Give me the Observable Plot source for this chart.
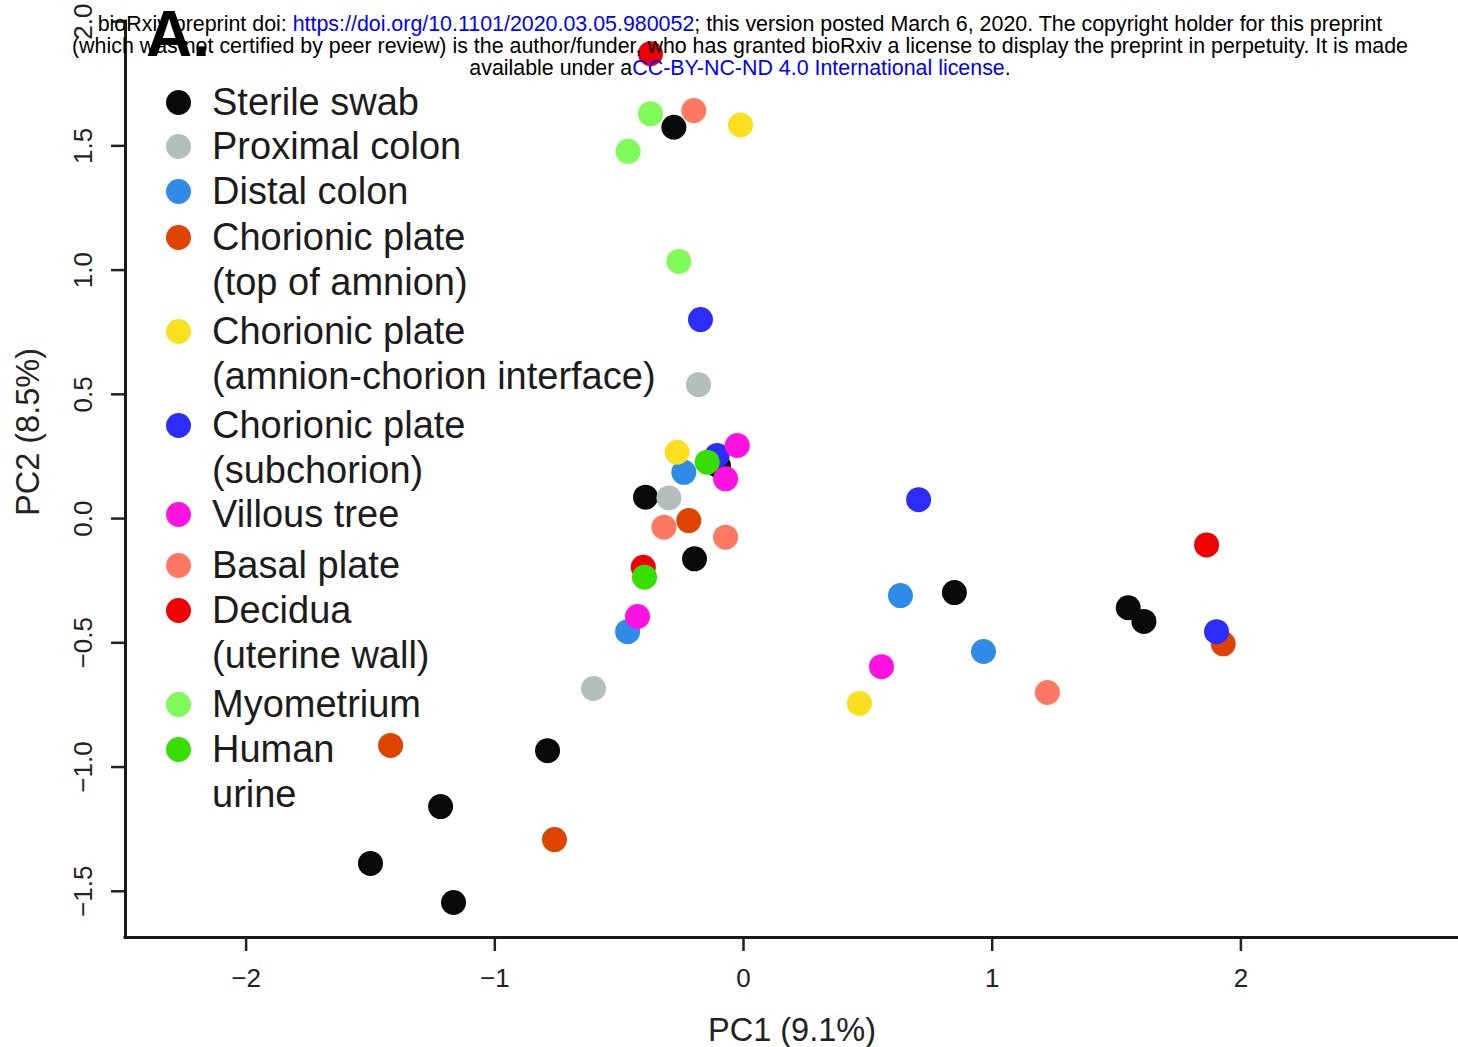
<!DOCTYPE html>
<html><head><meta charset="utf-8">
<script src="https://cdn.jsdelivr.net/npm/d3@7"></script>
<script src="https://cdn.jsdelivr.net/npm/@observablehq/plot@0.6"></script>
<style>
html,body{margin:0;padding:0;background:#fff;}
#wrap{position:relative;width:1458px;height:1047px;overflow:hidden;font-family:"Liberation Sans",Arial,Helvetica,sans-serif;}
#chart{position:absolute;left:0;top:0;}
.lg-dot{position:absolute;width:25px;height:25px;border-radius:50%;}
.lg-text{position:absolute;left:212px;height:44px;line-height:44px;font-size:38px;color:#1c1c1c;white-space:nowrap;}
#header{position:absolute;left:0;top:12.5px;width:1480px;text-align:center;font-size:21.4px;line-height:22px;color:#000;white-space:nowrap;}
#header a{color:#0000ff;text-decoration:none;}
#panel{position:absolute;left:146px;top:-2px;font-size:64px;font-weight:bold;line-height:72px;color:#000;}
</style></head><body>
<div id="wrap">
  <div id="chart"></div>
  <div id="legend"></div>
  <div id="panel">A.</div>
  <div id="header">
    <div>bioRxiv preprint doi: <a>https://doi.org/10.1101/2020.03.05.980052</a>; this version posted March 6, 2020. The copyright holder for this preprint</div>
    <div>(which was not certified by peer review) is the author/funder, who has granted bioRxiv a license to display the preprint in perpetuity. It is made</div>
    <div>available under a<a>CC-BY-NC-ND 4.0 International license</a>.</div>
  </div>
</div>
<script>
const categories = ["Sterile swab","Proximal colon","Distal colon","Chorionic plate (top of amnion)","Chorionic plate (amnion-chorion interface)","Chorionic plate (subchorion)","Villous tree","Basal plate","Decidua (uterine wall)","Myometrium","Human urine"];
const legendLines = [["Sterile swab"],["Proximal colon"],["Distal colon"],["Chorionic plate","(top of amnion)"],["Chorionic plate","(amnion-chorion interface)"],["Chorionic plate","(subchorion)"],["Villous tree"],["Basal plate"],["Decidua","(uterine wall)"],["Myometrium"],["Human","urine"]];
const colors = ["#0a0a0a","#b3bfbc","#2f8ae8","#de4300","#fce01f","#2d2dfb","#ff12df","#ff7862","#f00000","#7efb58","#37df00"];

// PC1 / PC2 per sample, grouped by sample type (same order as categories)
const pc1 = [
  [-0.280,-0.394,-0.101,-0.197,0.848,1.547,1.610,-0.788,-1.218,-1.500,-1.166],
  [-0.181,-0.300,-0.603],
  [-0.240,0.631,0.965,-0.466],
  [-0.220,1.929,-1.419,-0.760],
  [-0.012,-0.267,0.466],
  [-0.173,-0.106,0.704,1.902],
  [-0.025,-0.072,0.555,-0.426],
  [-0.200,-0.320,-0.072,1.222],
  [-0.374,-0.403,1.862],
  [-0.374,-0.464,-0.260],
  [-0.146,-0.398]
];
const pc2 = [
  [1.575,0.086,0.213,-0.162,-0.298,-0.359,-0.414,-0.934,-1.159,-1.388,-1.545],
  [0.539,0.083,-0.684],
  [0.186,-0.310,-0.535,-0.455],
  [-0.008,-0.504,-0.913,-1.292],
  [1.584,0.267,-0.744],
  [0.801,0.254,0.076,-0.455],
  [0.294,0.160,-0.596,-0.394],
  [1.642,-0.035,-0.075,-0.700],
  [1.871,-0.196,-0.106],
  [1.629,1.478,1.035],
  [0.227,-0.236]
];
const xTicks = [-2,-1,0,1,2];
const yTicks = [-1.5,-1.0,-0.5,0.0,0.5,1.0,1.5,2.0];
const xDomain = [-2.485, 2.875];
const yDomain = [-1.686, 2.085];

const points = categories.flatMap((c, i) => pc1[i].map((x, j) => ({group: c, pc1: x, pc2: pc2[i][j]})));
const minus = s => s.replace("-", "\u2212");

const chart = Plot.plot({
  width: 1458, height: 1047,
  marginLeft: 125, marginRight: 0, marginTop: 0, marginBottom: 110,
  style: {fontFamily: '"Liberation Sans", Arial, Helvetica, sans-serif', background: "white", color: "#222"},
  x: {domain: xDomain},
  y: {domain: yDomain},
  color: {type: "ordinal", domain: categories, range: colors},
  marks: [
    Plot.axisX({ticks: xTicks, tickSize: 14, tickPadding: 17, strokeWidth: 2.5, fontSize: 26, label: null, tickFormat: d => minus(d3.format("d")(d))}),
    Plot.axisY({ticks: yTicks, tickSize: 14, tickPadding: 28, tickRotate: -90, textAnchor: "middle", lineAnchor: "middle", strokeWidth: 2.5, fontSize: 26, label: null, tickFormat: d => minus(d3.format(".1f")(d))}),
    Plot.ruleY([yDomain[0]], {x1: xDomain[0], x2: xDomain[1], strokeWidth: 3, stroke: "#1a1a1a", strokeLinecap: "square"}),
    Plot.ruleX([xDomain[0]], {y1: yDomain[0], y2: yTicks[yTicks.length - 1], strokeWidth: 3, stroke: "#1a1a1a", strokeLinecap: "square"}),
    Plot.text(["PC1 (9.1%)"], {frameAnchor: "bottom", textAnchor: "middle", lineAnchor: "middle", dy: 93, fontSize: 32.5, fill: "#222"}),
    Plot.text(["PC2 (8.5%)"], {frameAnchor: "left", textAnchor: "middle", lineAnchor: "middle", rotate: -90, dx: -97, dy: -37, fontSize: 32.5, fill: "#222"}),
    Plot.dot(points, {x: "pc1", y: "pc2", fill: "group", r: 12.5})
  ]
});
document.getElementById("chart").appendChild(chart);

// legend (inside the plot area, top-left)
const rowCenters = [102, 146, 191, 237, 331, 425, 514, 565, 610, 704, 749];
const lg = document.getElementById("legend");
categories.forEach((c, i) => {
  const cy = rowCenters[i];
  const dot = document.createElement("div");
  dot.className = "lg-dot";
  dot.style.left = (178 - 12.5) + "px";
  dot.style.top = (cy - 12.5) + "px";
  dot.style.background = colors[i];
  lg.appendChild(dot);
  legendLines[i].forEach((line, k) => {
    const t = document.createElement("div");
    t.className = "lg-text";
    t.style.top = (cy - 22 + k * 44.5) + "px";
    t.textContent = line;
    lg.appendChild(t);
  });
});
</script>
</body></html>
